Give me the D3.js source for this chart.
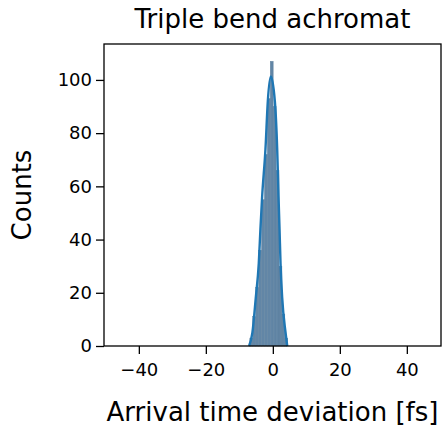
<!DOCTYPE html>
<html lang="en">

<head>
    <meta charset="UTF-8">
    <title>Triple bend achromat</title>
    <style>
        body { margin: 0; background: #fff; }
        svg { display: block; font-family: "DejaVu Sans", sans-serif; }
    </style>
</head>

<body>
    <svg id="chart"></svg>

    <script src="https://d3js.org/d3.v7.min.js"></script>
    <script>
        // histogram bins (left edge, right edge) and counts
        const binLo = [-6.86, -5.99, -5.12, -4.25, -3.38, -2.51, -1.64, -0.77, 0.10, 0.97, 1.84, 2.71, 3.58]
        const binHi = [-5.99, -5.12, -4.25, -3.38, -2.51, -1.64, -0.77, 0.10, 0.97, 1.84, 2.71, 3.58, 4.45]
        const counts = [3, 11, 22, 36, 55, 72, 93, 107, 90, 66, 30, 12, 3]

        // kde curve
        const kdeX = [-7.1, -6.1, -5.1, -4.2, -3.7, -3.2, -2.2, -1.5, -0.6, 0.6, 1.3, 1.7, 2.0, 2.3, 2.8, 3.8, 4.3]
        const kdeY = [0, 5, 18, 31, 44, 56, 74, 92, 101.3, 92, 74, 56, 44, 31, 18, 5, 0]

        const xTicks = [-40, -20, 0, 20, 40]
        const yTicks = [0, 20, 40, 60, 80, 100]

        function render() {
            const width = 444, height = 427
            const margin = { top: 44, left: 104, bottom: 81, right: 3 }

            const svg = d3.select('#chart').attr('width', width).attr('height', height)

            const x = d3.scaleLinear()
                .domain([-50.4, 50.2])
                .range([margin.left, width - margin.right])
            const y = d3.scaleLinear()
                .domain([0, 113.5])
                .range([height - margin.bottom, margin.top])

            // bars
            const bins = counts.map((c, i) => ({ lo: binLo[i], hi: binHi[i], c }))
            svg.append('g')
                .selectAll('rect')
                .data(bins)
                .join('rect')
                .attr('x', d => x(d.lo))
                .attr('y', d => y(d.c))
                .attr('width', d => x(d.hi) - x(d.lo))
                .attr('height', d => y(0) - y(d.c))
                .attr('fill', '#6286a6')
                .attr('stroke', '#5b7d9b')
                .attr('stroke-width', 0.4)

            // kde line
            const line = d3.line()
                .x((d, i) => x(kdeX[i]))
                .y(d => y(d))
                .curve(d3.curveMonotoneX)
            svg.append('path')
                .attr('d', line(kdeY))
                .attr('fill', 'none')
                .attr('stroke', '#1f77b4')
                .attr('stroke-width', 2.4)
                .attr('stroke-linejoin', 'round')

            // axes
            const xAxis = d3.axisBottom(x).tickValues(xTicks).tickSize(8).tickPadding(9)
                .tickFormat(d => d < 0 ? '\u2212' + Math.abs(d) : d)
            const yAxis = d3.axisLeft(y).tickValues(yTicks).tickSize(8).tickPadding(4)

            const gx = svg.append('g')
                .attr('transform', `translate(0,${height - margin.bottom})`)
                .call(xAxis)
            const gy = svg.append('g')
                .attr('transform', `translate(${margin.left},0)`)
                .call(yAxis)

            for (const g of [gx, gy]) {
                g.select('.domain').remove()
                g.selectAll('line').attr('stroke', '#000').attr('stroke-width', 1.3)
                g.selectAll('text').attr('font-size', 18).attr('fill', '#000')
                    .attr('font-family', '"DejaVu Sans", sans-serif')
            }

            // frame
            svg.append('rect')
                .attr('x', margin.left)
                .attr('y', margin.top)
                .attr('width', width - margin.right - margin.left)
                .attr('height', height - margin.bottom - margin.top)
                .attr('fill', 'none')
                .attr('stroke', '#000')
                .attr('stroke-width', 1.3)

            // labels
            svg.append('text')
                .attr('x', (margin.left + width - margin.right) / 2)
                .attr('y', 28)
                .attr('text-anchor', 'middle')
                .attr('font-size', 26)
                .text('Triple bend achromat')

            svg.append('text')
                .attr('x', (margin.left + width - margin.right) / 2)
                .attr('y', 421)
                .attr('text-anchor', 'middle')
                .attr('font-size', 26)
                .text('Arrival time deviation [fs]')

            svg.append('text')
                .attr('transform', `translate(31,${(margin.top + height - margin.bottom) / 2}) rotate(-90)`)
                .attr('text-anchor', 'middle')
                .attr('font-size', 26)
                .text('Counts')
        }

        render()
    </script>
</body>

</html>
